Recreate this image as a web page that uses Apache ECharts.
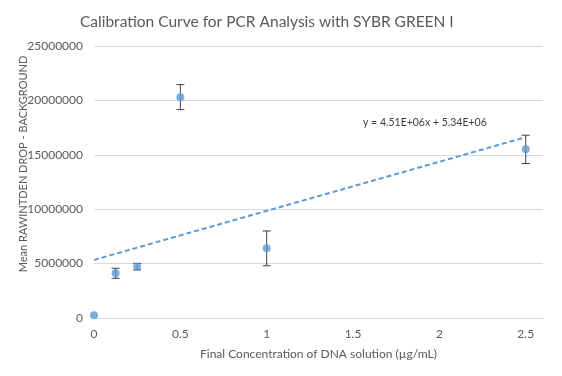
<!DOCTYPE html>
<html>
<head>
<meta charset="utf-8">
<script src="https://cdn.jsdelivr.net/npm/echarts@6/dist/echarts.min.js"></script>
<style>
html, body { margin: 0; padding: 0; background: #fff; }
#chart { width: 562px; height: 376px; }
</style>
</head>
<body>
<div id="chart"></div>
<script>
// concentration (ug/mL) and mean intensity with error (+/-)
const concentrations = [0, 0.125, 0.25, 0.5, 1, 2.5]
const meanValues = [250000, 4110000, 4720000, 20300000, 6400000, 15500000]
const errorValues = [0, 460000, 300000, 1150000, 1600000, 1300000]
const yTicks = [0, 5000000, 10000000, 15000000, 20000000, 25000000]
// trendline as shown on the chart
const slope = 4.51e6
const intercept = 5.34e6
const trendX = [0, 2.5]

const pointData = concentrations.map((x, i) => [x, meanValues[i]])
const errData = concentrations.map((x, i) => [x, meanValues[i] - errorValues[i], meanValues[i] + errorValues[i]])
const trendData = trendX.map(x => [x, slope * x + intercept])

const chart = echarts.init(document.getElementById('chart'))
const option = {
  animation: false,
  textStyle: { fontFamily: 'Lato' },
  title: {
    text: 'Calibration Curve for PCR Analysis with SYBR GREEN I',
    left: 75,
    top: 9,
    textStyle: { fontFamily: 'Lato', fontSize: 15.5, fontWeight: 'normal', color: '#595959' }
  },
  grid: { left: 94, right: 19, top: 46, bottom: 58 },
  xAxis: {
    type: 'value',
    min: 0,
    max: 2.6,
    interval: 0.5,
    name: 'Final Concentration of DNA solution (µg/mL)',
    nameLocation: 'middle',
    nameGap: 30,
    nameTextStyle: { color: '#595959', fontSize: 12 },
    axisLine: { show: true, lineStyle: { color: '#d9d9d9' } },
    axisTick: { show: false },
    splitLine: { show: false },
    axisLabel: { color: '#595959', fontSize: 12, margin: 10, showMaxLabel: false }
  },
  yAxis: {
    type: 'value',
    min: yTicks[0],
    max: yTicks[yTicks.length - 1],
    interval: 5000000,
    axisLine: { show: false },
    axisTick: { show: false },
    splitLine: { lineStyle: { color: '#d9d9d9' } },
    axisLabel: { color: '#595959', fontSize: 12, margin: 11, formatter: v => String(v) }
  },
  series: [
    {
      name: 'trend',
      type: 'line',
      data: trendData,
      symbol: 'none',
      lineStyle: { color: '#5b9bd5', width: 2, type: [5, 3] },
      z: 2
    },
    {
      name: 'error',
      type: 'custom',
      data: errData,
      renderItem: function (params, api) {
        const x = api.value(0)
        const lo = api.coord([x, api.value(1)])
        const hi = api.coord([x, api.value(2)])
        if (hi[1] === lo[1]) return null
        const w = 4
        const style = { stroke: '#404040', lineWidth: 1 }
        return {
          type: 'group',
          children: [
            { type: 'line', shape: { x1: lo[0], y1: lo[1], x2: hi[0], y2: hi[1] }, style: style },
            { type: 'line', shape: { x1: lo[0] - w, y1: lo[1], x2: lo[0] + w, y2: lo[1] }, style: style },
            { type: 'line', shape: { x1: hi[0] - w, y1: hi[1], x2: hi[0] + w, y2: hi[1] }, style: style }
          ]
        }
      },
      z: 3
    },
    {
      name: 'mean',
      type: 'scatter',
      data: pointData,
      symbolSize: 8,
      itemStyle: { color: '#5b9bd5' },
      z: 4
    }
  ],
  graphic: [
    {
      type: 'text',
      x: 23,
      y: 164,
      rotation: Math.PI / 2,
      style: {
        text: 'Mean RAWINTDEN DROP - BACKGROUND',
        fill: '#595959',
        font: '11px Lato',
        align: 'center',
        verticalAlign: 'middle'
      }
    },
    {
      type: 'text',
      left: 363,
      top: 117,
      style: {
        text: 'y = 4.51E+06x + 5.34E+06',
        fill: '#404040',
        font: '10.5px Lato'
      }
    }
  ]
}
chart.setOption(option)
</script>
</body>
</html>
